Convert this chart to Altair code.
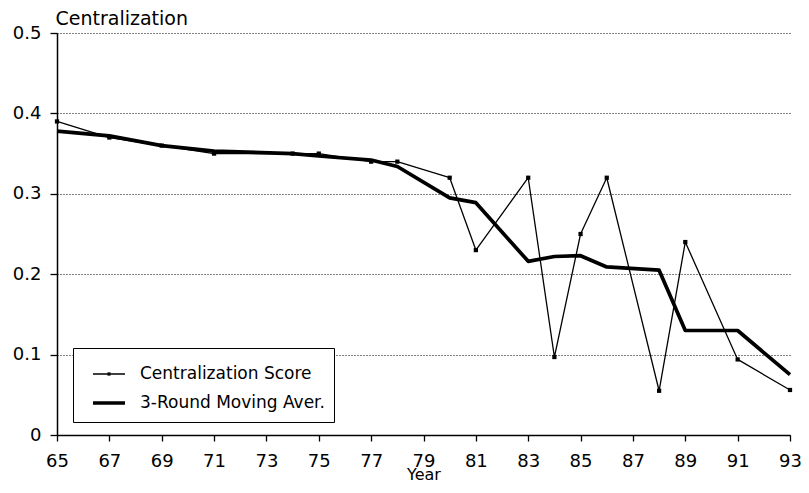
import altair as alt
import pandas as pd

# ---- data ----
years = [65, 67, 69, 71, 74, 75, 77, 78, 80, 81, 83, 84, 85, 86, 88, 89, 91, 93]
score = [0.39, 0.37, 0.36, 0.35, 0.35, 0.35, 0.34, 0.34, 0.32, 0.23, 0.32, 0.097,
         0.25, 0.32, 0.055, 0.24, 0.094, 0.056]
moving_avg = [0.378, 0.372, 0.36, 0.353, 0.35, 0.347, 0.342, 0.334, 0.295, 0.289,
              0.216, 0.222, 0.223, 0.209, 0.205, 0.130, 0.130, 0.075]
series_names = ["Centralization Score", "3-Round Moving Aver."]
x_ticks = list(range(65, 94, 2))
y_ticks = [0, 0.1, 0.2, 0.3, 0.4, 0.5]

df = pd.DataFrame({
    "year": years + years,
    "value": score + moving_avg,
    "series": [series_names[0]] * len(years) + [series_names[1]] * len(years),
})
df_pts = pd.DataFrame({"year": years, "value": score})

FONT = "DejaVu Sans"

x_enc = alt.X(
    "year:Q",
    scale=alt.Scale(domain=[65, 93], nice=False, zero=False),
    axis=alt.Axis(values=x_ticks, format="d", title="Year", grid=False,
                  labelFlush=False, labelFont=FONT, labelFontSize=18,
                  labelPadding=11, tickSize=6, labelColor="black",
                  titleFont=FONT, titleFontSize=16, titleFontWeight="normal",
                  titleColor="black", titleBaseline="alphabetic", titleY=44),
)
y_enc = alt.Y(
    "value:Q",
    scale=alt.Scale(domain=[0, 0.5], nice=False),
    axis=alt.Axis(values=y_ticks,
                  labelExpr="datum.value == 0 ? '0' : format(datum.value, '.1f')",
                  labelFont=FONT, labelFontSize=18, labelPadding=9, tickSize=7,
                  labelColor="black",
                  grid=True, gridDash=[1, 2], gridColor="black", gridWidth=1,
                  title="Centralization", titleAngle=0, titleAlign="left",
                  titleBaseline="alphabetic", titleX=-2, titleY=-9,
                  titleFont=FONT, titleFontSize=19, titleFontWeight="normal",
                  titleColor="black"),
)

# legend symbol: a stroke with a small "dot" in the middle (hidden under the thick stroke)
legend_symbol = "M-1,0H1M-0.05,-0.11V0.11M0.05,-0.11V0.11"
legend = alt.Legend(
    orient="none", legendX=16, legendY=315, title=None,
    strokeColor="black", fillColor="white", padding=9,
    symbolType=legend_symbol, symbolSize=1024,
    symbolStrokeColor="black",
    labelFont=FONT, labelFontSize=17, labelColor="black", labelLimit=600,
    labelOffset=13, rowPadding=3, symbolOffset=9,
    labelExpr="datum.label + '" + "\u00a0" * 11 + "'",
)

lines = alt.Chart(df).mark_line(strokeJoin="round").encode(
    x=x_enc,
    y=y_enc,
    color=alt.Color("series:N",
                    scale=alt.Scale(domain=series_names, range=["black", "black"]),
                    legend=legend),
    strokeWidth=alt.StrokeWidth("series:N",
                                scale=alt.Scale(domain=series_names, range=[1.3, 3.7]),
                                legend=legend),
)

points = alt.Chart(df_pts).mark_point(shape="square", filled=True, size=18,
                                      color="black", opacity=1).encode(
    x=x_enc, y=y_enc,
)

chart = alt.layer(lines, points).properties(
    width=733, height=402,
    background="white",
    padding={"left": 49, "top": 25, "right": 11, "bottom": 47},
    autosize=alt.AutoSizeParams(type="none"),
).configure_view(stroke=None).configure_axis(
    labelFont=FONT, titleFont=FONT, labelColor="black", titleColor="black",
    domainColor="black", domainWidth=1.5, tickColor="black", tickWidth=1.3,
)

chart.save("out.html", embed_options={"renderer": "svg", "actions": False})
